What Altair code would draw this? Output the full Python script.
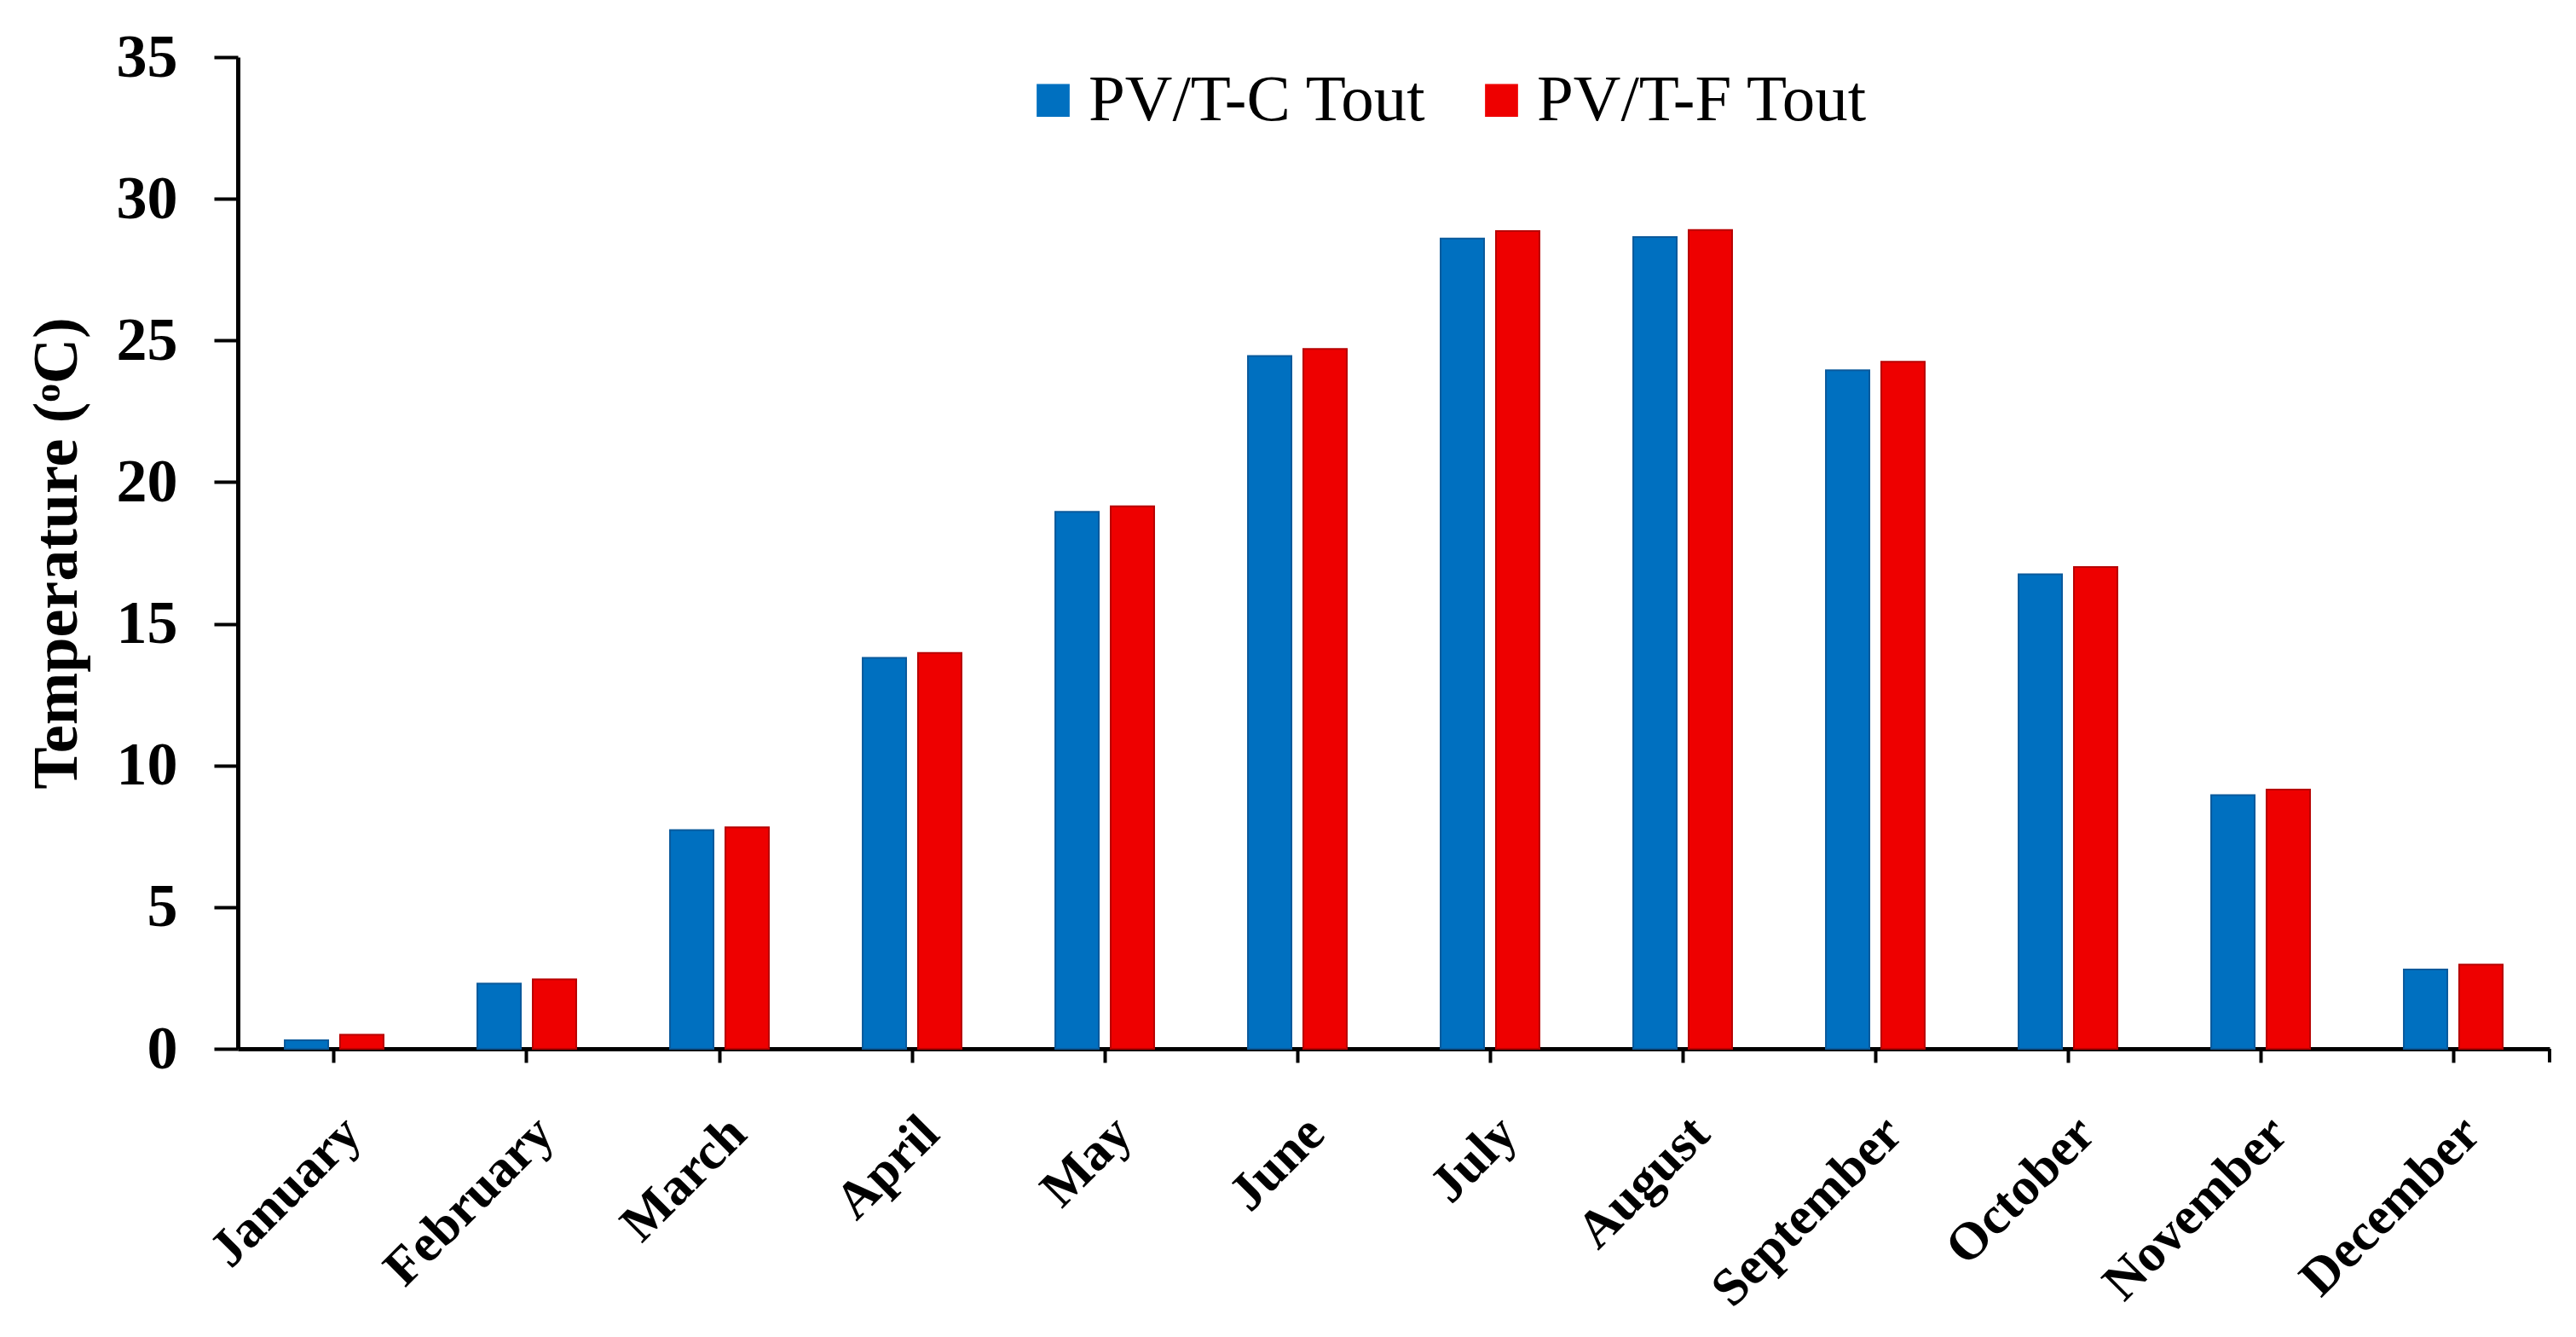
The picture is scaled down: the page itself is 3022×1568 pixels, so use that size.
import altair as alt
import pandas as pd

months = ["January", "February", "March", "April", "May", "June", "July",
          "August", "September", "October", "November", "December"]
series_names = ["PV/T-C Tout", "PV/T-F Tout"]
c_tout = [0.3, 2.3, 7.72, 13.8, 18.95, 24.45, 28.6, 28.65, 23.95, 16.75, 8.95, 2.8]
f_tout = [0.5, 2.45, 7.82, 13.97, 19.15, 24.7, 28.86, 28.9, 24.25, 17.0, 9.15, 2.97]
y_ticks = [0, 5, 10, 15, 20, 25, 30, 35]

rows = []
for m, c, f in zip(months, c_tout, f_tout):
    rows.append({"month": m, "series": series_names[0], "value": c})
    rows.append({"month": m, "series": series_names[1], "value": f})
df = pd.DataFrame(rows)

W, H = 2712, 1163
LABEL_FONT = "Liberation Serif"

bars = alt.Chart(df).mark_bar(strokeWidth=2).encode(
    x=alt.X("month:N", sort=months,
            scale=alt.Scale(paddingInner=0.487, paddingOuter=0.2435),
            axis=alt.Axis(title=None, labelAngle=-45, labelFont=LABEL_FONT,
                          labelFontWeight="bold", labelFontSize=62, labelColor="black",
                          labelPadding=52, tickSize=16, tickWidth=4,
                          tickColor="black", domainColor="black", domainWidth=5,
                          labelOverlap=False, labelLimit=0)),
    xOffset=alt.XOffset("series:N", sort=series_names,
                        scale=alt.Scale(paddingInner=0.215, paddingOuter=0)),
    y=alt.Y("value:Q", scale=alt.Scale(domain=[0, 35], nice=False),
            axis=alt.Axis(title="Temperature (ᵒC)", values=y_ticks, grid=False,
                          labelFont=LABEL_FONT, labelFontWeight="bold", labelFontSize=72,
                          labelColor="black", labelPadding=43, tickSize=28, tickWidth=4,
                          tickColor="black", domainColor="black", domainWidth=5,
                          titleFont=LABEL_FONT, titleFontWeight="bold", titleFontSize=74,
                          titleColor="black", titlePadding=31)),
    color=alt.Color("series:N", sort=series_names,
                    scale=alt.Scale(domain=series_names, range=["#0070C0", "#EE0000"]),
                    legend=alt.Legend(title=None, orient="none", direction="horizontal",
                                      legendX=918, legendY=12, symbolType="square",
                                      symbolSize=1500, symbolStrokeWidth=0,
                                      labelFont=LABEL_FONT, labelFontSize=77,
                                      labelColor="black", labelOffset=3,
                                      columnPadding=49, labelLimit=0)),
    stroke=alt.Stroke("series:N", sort=series_names,
                      scale=alt.Scale(domain=series_names, range=["#0a5a9c", "#b80000"]),
                      legend=None),
)

end_tick = alt.Chart(pd.DataFrame({"k": [0]})).mark_rule(color="black", strokeWidth=4).encode(
    x=alt.value(W), y=alt.value(H), y2=alt.value(H + 16)
)

chart = alt.layer(bars, end_tick).properties(
    width=W, height=H,
    autosize=alt.AutoSizeParams(type="none"),
    padding={"left": 271, "top": 59, "right": 20, "bottom": 330},
).configure(background="white", view=alt.ViewConfig(stroke=None))

chart.save("out.html", embed_options={"renderer": "svg", "actions": False})
